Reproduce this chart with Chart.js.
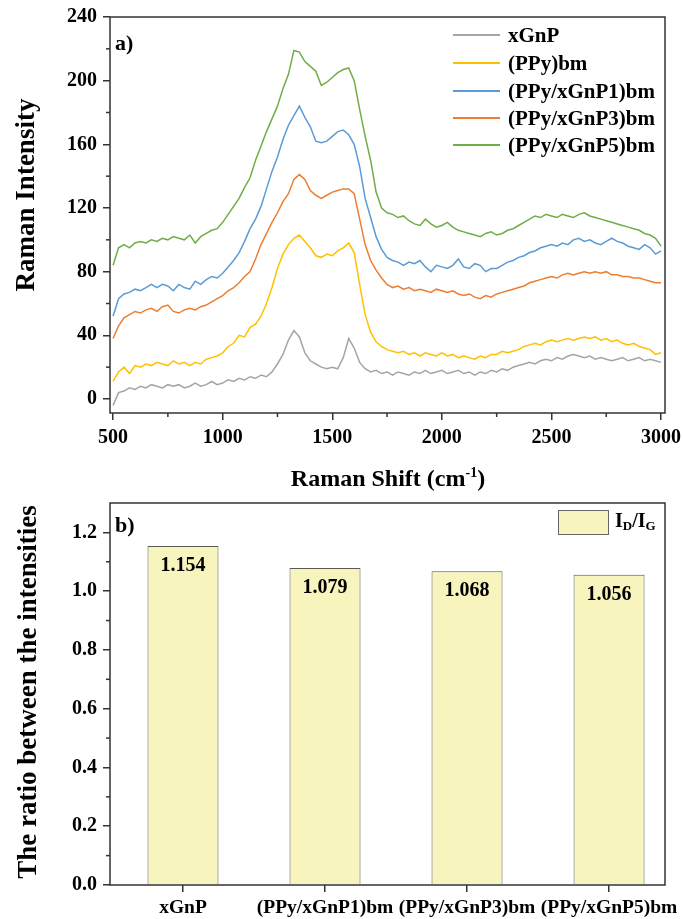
<!DOCTYPE html>
<html><head><meta charset="utf-8">
<script src="https://cdn.jsdelivr.net/npm/chart.js@4.4.1/dist/chart.umd.min.js"></script>
<style>
html,body{margin:0;padding:0;background:#fff;}
body{width:683px;height:919px;position:relative;overflow:hidden;font-family:'Liberation Serif','Times New Roman',serif;font-weight:bold;color:#000;}
.abs{position:absolute;white-space:nowrap;}
.leg{position:absolute;left:453px;height:24px;display:flex;align-items:center;font-size:21px;white-space:nowrap;}
.leg .l{display:inline-block;width:47px;height:2px;margin-right:8px;}
sub{font-size:13px;position:relative;top:3px;vertical-align:baseline;line-height:0;}
</style></head><body>
<div class="abs" style="left:0;top:0;width:683px;height:490px"><canvas id="c1"></canvas></div>
<div class="abs" style="left:0;top:490px;width:683px;height:429px"><canvas id="c2"></canvas></div>

<div class="abs" style="left:-75px;top:181px;width:200px;height:28px;line-height:28px;text-align:center;font-size:27px;transform:rotate(-90deg);">Raman Intensity</div>
<div class="abs" style="left:238px;top:465px;width:300px;height:26px;line-height:26px;text-align:center;font-size:24px;">Raman Shift (cm<span style="font-size:14px;position:relative;top:-9px;">-1</span>)</div>
<div class="abs" style="left:-173px;top:678px;width:400px;height:28px;line-height:28px;text-align:center;font-size:27px;transform:rotate(-90deg);">The ratio between the intensities</div>
<div class="abs" style="left:115px;top:31px;font-size:22px;line-height:24px;">a)</div>
<div class="abs" style="left:115px;top:513px;font-size:22px;line-height:24px;">b)</div>
<div class="abs" style="left:558px;top:510px;width:49px;height:23px;background:#F8F4BE;border:1px solid #666;"></div>
<div class="abs" style="left:615px;top:508px;font-size:20px;line-height:24px;">I<sub>D</sub>/I<sub>G</sub></div>
<div id="legend"></div>

<script>
const ramanShift = [500,525,550,575,600,625,650,675,700,725,750,775,800,825,850,875,900,925,950,975,1000,1025,1050,1075,1100,1125,1150,1175,1200,1225,1250,1275,1300,1325,1350,1375,1400,1425,1450,1475,1500,1525,1550,1575,1600,1625,1650,1675,1700,1725,1750,1775,1800,1825,1850,1875,1900,1925,1950,1975,2000,2025,2050,2075,2100,2125,2150,2175,2200,2225,2250,2275,2300,2325,2350,2375,2400,2425,2450,2475,2500,2525,2550,2575,2600,2625,2650,2675,2700,2725,2750,2775,2800,2825,2850,2875,2900,2925,2950,2975,3000];

const xGnP = [-4,4,5,7,6,8,7,9,8,7,9,8,9,7,8,10,8,9,11,9,10,12,11,13,12,14,13,15,14,17,22,28,37,43,39,29,24,22,20,19,20,19,26,38,32,23,19,17,18,16,17,15,17,16,15,17,16,18,16,17,18,16,17,18,16,17,15,17,16,18,17,19,18,20,21,22,23,22,24,25,24,26,25,27,28,27,26,27,25,26,25,24,25,26,24,25,26,24,25,24,23];

const PPy_bm = [11,17,20,16,21,20,22,21,23,22,21,24,22,23,21,23,22,25,26,27,29,33,35,40,39,45,47,52,60,70,82,91,97,101,103,99,95,90,89,91,90,93,95,98,92,72,53,42,36,33,31,30,29,30,28,29,27,29,28,27,29,27,28,26,27,26,25,27,26,28,28,30,29,30,31,33,34,35,34,36,37,36,37,38,37,38,39,38,39,37,38,36,37,35,34,35,33,32,31,28,29];

const PPy_xGnP1_bm = [52,63,66,67,69,68,70,72,70,72,71,68,72,70,69,74,72,75,77,76,79,83,87,92,99,107,113,121,132,143,152,163,172,178,184,177,171,162,161,162,165,168,169,166,160,146,126,114,102,94,89,87,86,84,86,85,87,83,80,84,83,82,84,88,83,82,85,84,80,82,82,84,86,87,89,90,92,93,95,96,97,96,98,97,100,101,99,100,98,97,99,101,99,98,96,95,94,97,95,91,93];

const PPy_xGnP3_bm = [38,46,51,53,55,54,56,57,55,58,59,55,54,56,57,56,58,59,61,63,65,68,70,73,77,80,88,97,104,111,117,124,129,138,141,138,131,128,126,128,130,131,132,132,129,113,97,87,81,76,72,70,71,69,70,68,69,68,67,69,68,67,68,66,65,66,64,63,65,64,66,67,68,69,70,71,73,74,75,76,77,76,78,79,78,79,80,79,80,79,80,78,78,77,77,76,76,75,74,73,73];

const PPy_xGnP5_bm = [84,95,97,95,98,99,98,100,99,101,100,102,101,100,103,98,102,104,106,107,111,116,121,126,133,139,150,159,168,176,184,195,204,219,218,212,209,206,197,199,202,205,207,208,200,182,165,150,130,120,117,116,114,115,112,110,109,113,110,108,109,111,108,106,105,104,103,102,104,105,103,104,106,107,109,111,113,115,114,116,115,114,116,115,114,116,117,115,114,113,112,111,110,109,108,107,106,104,103,101,96];

const seriesNames = ['xGnP','(PPy)bm','(PPy/xGnP1)bm','(PPy/xGnP3)bm','(PPy/xGnP5)bm'];
const seriesValues = [xGnP, PPy_bm, PPy_xGnP1_bm, PPy_xGnP3_bm, PPy_xGnP5_bm];
const seriesColors = ['#A5A5A5','#FFC000','#5B9BD5','#ED7D31','#70AD47'];

const ramanTicks = [500,1000,1500,2000,2500,3000];
const intensityTicks = [0,40,80,120,160,200,240];

const barCategories = ['xGnP','(PPy/xGnP1)bm','(PPy/xGnP3)bm','(PPy/xGnP5)bm'];
const idigRatio = [1.154,1.079,1.068,1.056];

const FONT = "'Liberation Serif','Times New Roman',serif";
Chart.defaults.font.family = FONT;
Chart.defaults.font.weight = 'bold';
Chart.defaults.color = '#000';

const AX = '#333';

const frameMinor = {
  id: 'frameMinor',
  afterDraw(chart, args, opts) {
    const {ctx, chartArea: a} = chart;
    ctx.save();
    ctx.strokeStyle = AX; ctx.lineWidth = 1.5;
    ctx.strokeRect(a.left, a.top, a.right - a.left, a.bottom - a.top);
    ['x','y'].forEach(id => {
      if (!opts[id]) return;
      const s = chart.scales[id];
      const t = s.ticks.map(k => k.value);
      for (let i = 0; i < t.length - 1; i++) {
        const p = s.getPixelForValue((t[i] + t[i+1]) / 2);
        ctx.beginPath();
        if (id === 'x') { ctx.moveTo(p, a.bottom); ctx.lineTo(p, a.bottom + 4); }
        else { ctx.moveTo(a.left - 4, p); ctx.lineTo(a.left, p); }
        ctx.stroke();
      }
    });
    ctx.restore();
  }
};

function gridOpts() {
  return { drawOnChartArea: false, drawTicks: true, tickLength: 7, color: AX, lineWidth: 1.5, offset: false };
}

new Chart(document.getElementById('c1'), {
  type: 'line',
  data: {
    datasets: seriesValues.map((vals, k) => ({
      label: seriesNames[k],
      data: vals.map((v, i) => ({x: ramanShift[i], y: v})),
      borderColor: seriesColors[k],
      borderWidth: 1.5,
      pointRadius: 0,
      fill: false,
      tension: 0
    }))
  },
  options: {
    responsive: true, maintainAspectRatio: false, animation: false,
    layout: { padding: { top: 17, right: 18, left: 0, bottom: 0 } },
    plugins: { legend: { display: false }, tooltip: { enabled: false }, frameMinor: { x: true, y: true } },
    scales: {
      x: {
        type: 'linear', min: 486, max: 3018, offset: false,
        grid: gridOpts(), border: { display: false },
        afterBuildTicks: s => { s.ticks = ramanTicks.map(v => ({value: v})); },
        ticks: { font: { size: 20 }, padding: 6, maxRotation: 0, callback: v => String(v) },
        afterFit: s => { s.height = 77; s.paddingLeft = 0; s.paddingRight = 0; }
      },
      y: {
        type: 'linear', min: -8.8, max: 240,
        grid: gridOpts(), border: { display: false },
        afterBuildTicks: s => { s.ticks = intensityTicks.map(v => ({value: v})); },
        ticks: { font: { size: 20 }, padding: 6, callback: v => String(v) },
        afterFit: s => { s.width = 110; s.paddingTop = 0; s.paddingBottom = 0; }
      }
    }
  },
  plugins: [frameMinor]
});

const valueLabels = {
  id: 'valueLabels',
  afterDatasetsDraw(chart) {
    const meta = chart.getDatasetMeta(0);
    const ctx = chart.ctx;
    ctx.save();
    ctx.font = 'bold 20px ' + FONT;
    ctx.fillStyle = '#000'; ctx.textAlign = 'center'; ctx.textBaseline = 'middle';
    meta.data.forEach((el, i) => ctx.fillText(idigRatio[i].toFixed(3), el.x, el.y + 20));
    ctx.restore();
  }
};

new Chart(document.getElementById('c2'), {
  type: 'bar',
  data: {
    datasets: [{
      label: 'ID/IG',
      data: idigRatio.map((v, i) => ({x: i, y: v})),
      backgroundColor: '#F8F4BE', borderColor: '#5a5a50', borderWidth: 1,
      barPercentage: 0.5, categoryPercentage: 1
    }]
  },
  options: {
    responsive: true, maintainAspectRatio: false, animation: false,
    layout: { padding: { top: 13, right: 18, left: 0, bottom: 0 } },
    plugins: { legend: { display: false }, tooltip: { enabled: false }, frameMinor: { x: false, y: true } },
    scales: {
      x: {
        type: 'linear', min: -0.514, max: 3.394, offset: false,
        grid: gridOpts(), border: { display: false },
        afterBuildTicks: s => { s.ticks = barCategories.map((c, i) => ({value: i})); },
        ticks: { font: { size: 19.5 }, padding: 4, maxRotation: 0, autoSkip: false, callback: v => barCategories[v] },
        afterFit: s => { s.height = 34; s.paddingLeft = 0; s.paddingRight = 0; }
      },
      y: {
        type: 'linear', min: 0, max: 1.3,
        grid: gridOpts(), border: { display: false },
        afterBuildTicks: s => { s.ticks = [0,0.2,0.4,0.6,0.8,1.0,1.2].map(v => ({value: v})); },
        ticks: { font: { size: 20 }, padding: 6, callback: v => v.toFixed(1) },
        afterFit: s => { s.width = 110; s.paddingTop = 0; s.paddingBottom = 0; }
      }
    }
  },
  plugins: [frameMinor, valueLabels]
});

const legendRowCenters = [35, 63, 91, 118, 145];
const legendEl = document.getElementById('legend');
seriesNames.forEach((n, k) => {
  const row = document.createElement('div');
  row.className = 'leg';
  row.style.top = (legendRowCenters[k] - 12) + 'px';
  const l = document.createElement('span'); l.className = 'l'; l.style.background = seriesColors[k];
  const t = document.createElement('span'); t.textContent = n;
  row.appendChild(l); row.appendChild(t);
  legendEl.appendChild(row);
});
</script>
</body></html>
